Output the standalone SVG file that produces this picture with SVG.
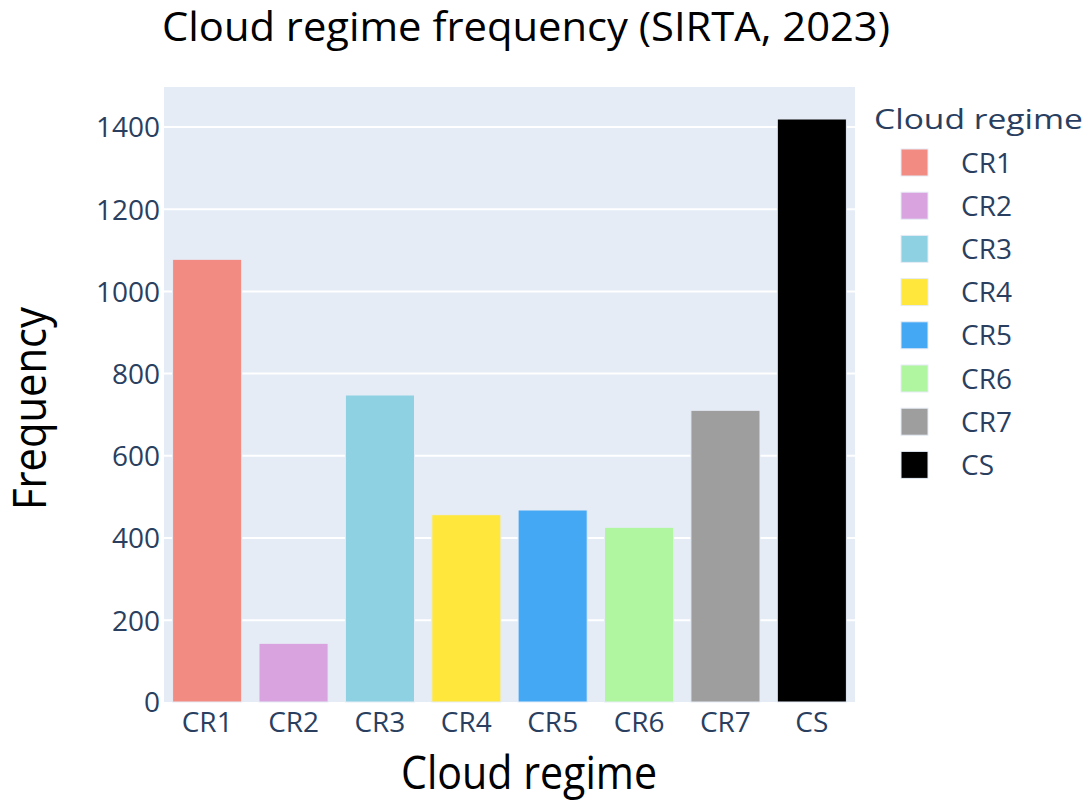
<svg xmlns="http://www.w3.org/2000/svg" width="1089" height="800" viewBox="0 0 1089 800">
<style>
.tick{font-family:"Open Sans","Liberation Sans",sans-serif;font-size:28px;fill:#2a3f5f}
.ytick{text-anchor:end}
.xtick{text-anchor:middle}
.ttl{font-family:"Open Sans","Liberation Sans",sans-serif;fill:#000000}
.grid{stroke:#ffffff;stroke-width:2}
.bar{stroke:#e5ecf6;stroke-width:1}
.sw{stroke:#e5ecf6;stroke-width:1}
</style>
<rect x="0" y="0" width="1089" height="800" fill="#ffffff"/>
<text class="ttl" x="162" y="41" font-size="40" textLength="728" lengthAdjust="spacingAndGlyphs">Cloud regime frequency (SIRTA, 2023)</text>
<g id="plot">
<rect x="164" y="87" width="691" height="615" fill="#e5ecf6"/>
<g id="grid">
<line class="grid" x1="164" x2="855" y1="620.2" y2="620.2"/>
<line class="grid" x1="164" x2="855" y1="538" y2="538"/>
<line class="grid" x1="164" x2="855" y1="455.8" y2="455.8"/>
<line class="grid" x1="164" x2="855" y1="373.6" y2="373.6"/>
<line class="grid" x1="164" x2="855" y1="291.4" y2="291.4"/>
<line class="grid" x1="164" x2="855" y1="209.2" y2="209.2"/>
<line class="grid" x1="164" x2="855" y1="127" y2="127"/>
</g>
<g id="yticks" class="tick ytick">
<text x="160" y="712.3">0</text>
<text x="160" y="630.5">200</text>
<text x="160" y="548.3">400</text>
<text x="160" y="466.1">600</text>
<text x="160" y="383.9">800</text>
<text x="160" y="301.7">1000</text>
<text x="160" y="219.5">1200</text>
<text x="160" y="137.3">1400</text>
</g>
</g>
<g id="bar-CR1"><rect class="bar" x="172.6" y="259.3" width="69.1" height="442.7" fill="#f28b82"/><text class="tick xtick" x="207.2" y="732">CR1</text></g>
<g id="bar-CR2"><rect class="bar" x="259" y="643.3" width="69.1" height="58.7" fill="#d8a3de"/><text class="tick xtick" x="293.6" y="732">CR2</text></g>
<g id="bar-CR3"><rect class="bar" x="345.4" y="395" width="69.1" height="307" fill="#8ed1e2"/><text class="tick xtick" x="379.9" y="732">CR3</text></g>
<g id="bar-CR4"><rect class="bar" x="431.8" y="514.7" width="69.1" height="187.3" fill="#ffe83b"/><text class="tick xtick" x="466.3" y="732">CR4</text></g>
<g id="bar-CR5"><rect class="bar" x="518.1" y="510" width="69.1" height="192" fill="#45a8f5"/><text class="tick xtick" x="552.7" y="732">CR5</text></g>
<g id="bar-CR6"><rect class="bar" x="604.5" y="527.3" width="69.1" height="174.7" fill="#b0f5a0"/><text class="tick xtick" x="639.1" y="732">CR6</text></g>
<g id="bar-CR7"><rect class="bar" x="690.9" y="410.3" width="69.1" height="291.7" fill="#9e9e9e"/><text class="tick xtick" x="725.4" y="732">CR7</text></g>
<g id="bar-CS"><rect class="bar" x="777.3" y="119" width="69.1" height="583" fill="#000000"/><text class="tick xtick" x="811.8" y="732">CS</text></g>
<text class="ttl" x="401" y="789" font-size="45" textLength="256" lengthAdjust="spacingAndGlyphs">Cloud regime</text>
<text class="ttl" transform="translate(46,510) rotate(-90)" x="0" y="0" font-size="45" textLength="203" lengthAdjust="spacingAndGlyphs">Frequency</text>
<g id="legend">
<text class="tick" x="874" y="129" font-size="32" textLength="209" lengthAdjust="spacingAndGlyphs">Cloud regime</text>
<g id="leg-CR1"><rect class="sw" x="901" y="149" width="27" height="27" fill="#f28b82"/><text class="tick" x="961" y="172.5">CR1</text></g>
<g id="leg-CR2"><rect class="sw" x="901" y="192.2" width="27" height="27" fill="#d8a3de"/><text class="tick" x="961" y="215.7">CR2</text></g>
<g id="leg-CR3"><rect class="sw" x="901" y="235.4" width="27" height="27" fill="#8ed1e2"/><text class="tick" x="961" y="258.9">CR3</text></g>
<g id="leg-CR4"><rect class="sw" x="901" y="278.6" width="27" height="27" fill="#ffe83b"/><text class="tick" x="961" y="302.1">CR4</text></g>
<g id="leg-CR5"><rect class="sw" x="901" y="321.8" width="27" height="27" fill="#45a8f5"/><text class="tick" x="961" y="345.3">CR5</text></g>
<g id="leg-CR6"><rect class="sw" x="901" y="365" width="27" height="27" fill="#b0f5a0"/><text class="tick" x="961" y="388.5">CR6</text></g>
<g id="leg-CR7"><rect class="sw" x="901" y="408.2" width="27" height="27" fill="#9e9e9e"/><text class="tick" x="961" y="431.7">CR7</text></g>
<g id="leg-CS"><rect class="sw" x="901" y="451.4" width="27" height="27" fill="#000000"/><text class="tick" x="961" y="474.9">CS</text></g>
</g>
</svg>
